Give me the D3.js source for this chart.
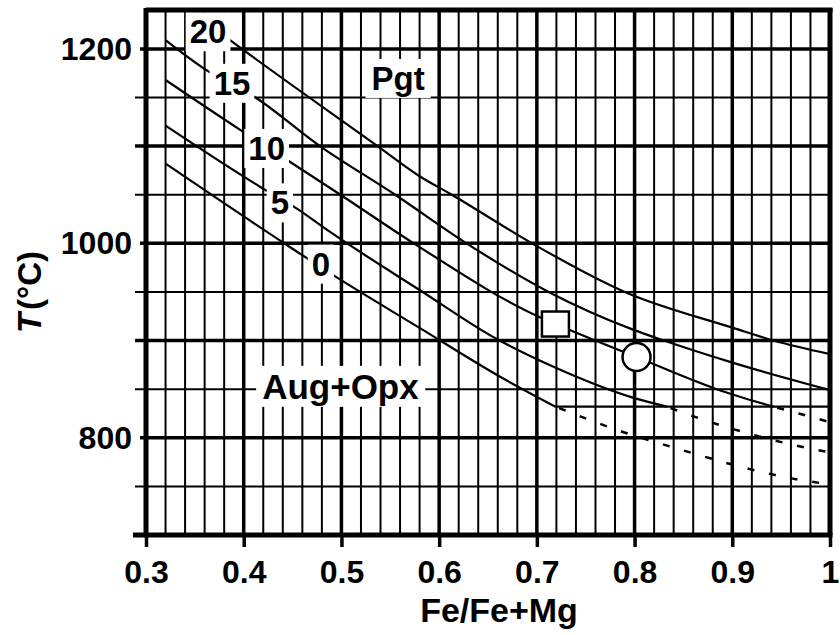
<!DOCTYPE html>
<html>
<head>
<meta charset="utf-8">
<script src="https://cdn.jsdelivr.net/npm/d3@7/dist/d3.min.js"></script>
<style>
  body { margin: 0; background: #fff; }
  svg { display: block; font-family: 'Liberation Sans', Arial, sans-serif; font-weight: bold; }
</style>
</head>
<body>
<svg width="840" height="635"></svg>
<script>
const xTicks = [0.3, 0.4, 0.5, 0.6, 0.7, 0.8, 0.9, 1];
const yTicks = [800, 1000, 1200];

// isobars in kbar, [Fe/(Fe+Mg), T]
const iso0  = [[0.320,1082],[0.440,1001],[0.492,967],[0.580,913],[0.662,863],[0.719,832]];
const iso5  = [[0.320,1121],[0.417,1058],[0.454,1036],[0.488,1012],[0.580,952],[0.660,901],[0.717,873],[0.799,841],[0.833,832]];
const iso10 = [[0.320,1168],[0.396,1117],[0.444,1086],[0.499,1050],[0.574,1000],[0.703,924],[0.719,917],[0.802,883],[0.884,850],[0.942,832]];
const iso15 = [[0.320,1209],[0.359,1180],[0.412,1150],[0.478,1100],[0.555,1050],[0.628,1000],[0.712,950],[0.799,911],[0.830,900],[0.901,877],[1.0,849]];
const iso20 = [[0.370,1221],[0.386,1209],[0.537,1100],[0.580,1069],[0.613,1050],[0.695,1000],[0.790,950],[0.901,913],[0.942,900],[1.0,886]];

// metastable extensions below the limit
const dash0  = [[0.719,832],[0.788,806],[0.850,787],[0.917,768],[0.962,758],[1.0,752]];
const dash5  = [[0.833,832],[0.875,817],[0.918,804],[0.961,793],[1.0,785]];
const dash10 = [[0.942,832],[0.968,825],[1.0,816]];
const limit  = [[0.719,832],[1.0,832]];

const squarePt = [0.719, 917];
const circlePt = [0.802, 883];

const isoNames = ['0', '5', '10', '15', '20'];
const isoLabelAt = [[0.479,979],[0.437,1042],[0.4235,1098],[0.388,1165],[0.3635,1218]];
const fieldNames = ['Pgt', 'Aug+Opx'];
const fieldAt = [[0.558,1170],[0.499,853]];

const svg = d3.select('svg'),
    width = +svg.attr('width'),
    height = +svg.attr('height');

const x = d3.scaleLinear().domain([0.3, 1]).range([146, 830]);
const y = d3.scaleLinear().domain([700, 1240]).range([535, 10]);

const tenth = d => Math.abs(d * 10 - Math.round(d * 10)) < 1e-6;

// grid
const grid = svg.append('g').attr('stroke', '#000');
grid.selectAll('line.v')
  .data(x.ticks(35).filter(d => d > 0.3 && d < 1))
  .enter().append('line')
    .attr('class', 'v')
    .attr('x1', d => x(d)).attr('x2', d => x(d))
    .attr('y1', y(1240)).attr('y2', y(700))
    .attr('stroke-width', d => tenth(d) ? 3.5 : 2);

grid.selectAll('line.h')
  .data(y.ticks(10).filter(d => d > 700))
  .enter().append('line')
    .attr('class', 'h')
    .attr('x1', d => yTicks.includes(d) ? 140 : 135).attr('x2', x(1))
    .attr('y1', d => y(d)).attr('y2', d => y(d))
    .attr('stroke-width', d => d % 100 === 0 ? 3.5 : 2);

// curves
const line = d3.line()
    .x(d => x(d[0]))
    .y(d => y(d[1]))
    .curve(d3.curveMonotoneX);

svg.append('g')
  .selectAll('path')
  .data([iso0, iso5, iso10, iso15, iso20, limit])
  .enter().append('path')
    .attr('d', line)
    .attr('fill', 'none')
    .attr('stroke', '#000')
    .attr('stroke-width', 2.2);

svg.append('g')
  .selectAll('path')
  .data([dash0, dash5, dash10])
  .enter().append('path')
    .attr('d', line)
    .attr('fill', 'none')
    .attr('stroke', '#000')
    .attr('stroke-width', 2.5)
    .attr('stroke-dasharray', '7,15')
    .attr('stroke-dashoffset', -4);

// samples
svg.append('rect')
    .attr('x', x(squarePt[0]) - 13.5).attr('y', y(squarePt[1]) - 12.5)
    .attr('width', 27).attr('height', 25)
    .attr('fill', '#fff').attr('stroke', '#000').attr('stroke-width', 2.5);
svg.append('circle')
    .attr('cx', x(circlePt[0])).attr('cy', y(circlePt[1])).attr('r', 14)
    .attr('fill', '#fff').attr('stroke', '#000').attr('stroke-width', 2.5);

// labels on white boxes
function boxed(text, pos, size, pad) {
  const g = svg.append('g');
  const t = g.append('text')
      .attr('x', x(pos[0])).attr('y', y(pos[1]))
      .attr('dy', '0.36em')
      .attr('text-anchor', 'middle')
      .style('font-size', size + 'px')
      .text(text);
  const b = t.node().getBBox();
  g.insert('rect', 'text')
      .attr('x', b.x - pad).attr('y', b.y - 1)
      .attr('width', b.width + 2 * pad).attr('height', b.height + 2)
      .attr('fill', '#fff');
}
isoNames.forEach((n, i) => boxed(n, isoLabelAt[i], 33, 4));
fieldNames.forEach((n, i) => boxed(n, fieldAt[i], i === 0 ? 33 : 35, 6));

// frame
const frame = svg.append('g').attr('stroke', '#000').attr('stroke-width', 5);
frame.append('line').attr('x1', 133).attr('x2', x(1) + 2.5).attr('y1', y(700)).attr('y2', y(700));
frame.append('line').attr('x1', x(0.3)).attr('x2', x(0.3)).attr('y1', y(1240) - 2).attr('y2', y(700) + 2.5);
frame.append('line').attr('x1', x(0.3)).attr('x2', x(1) + 2.5).attr('y1', y(1240)).attr('y2', y(1240));
frame.append('line').attr('x1', x(1)).attr('x2', x(1)).attr('y1', y(1240) - 2).attr('y2', y(700));

// axes
svg.append('g')
    .attr('transform', `translate(0,${y(700)})`)
    .call(d3.axisBottom(x).tickValues(xTicks).tickSize(12).tickPadding(13)
      .tickFormat(d => d === 1 ? '1' : d.toFixed(1)))
    .call(g => g.select('.domain').remove())
    .call(g => g.attr('font-size', null).attr('font-family', null))
    .call(g => g.selectAll('line').attr('stroke-width', 3.5))
    .call(g => g.selectAll('text').style('font-size', '32px'));

svg.append('g')
    .attr('transform', `translate(${x(0.3)},0)`)
    .call(d3.axisLeft(y).tickValues(yTicks).tickSize(0).tickPadding(14)
      .tickFormat(d3.format('d')))
    .call(g => g.select('.domain').remove())
    .call(g => g.attr('font-size', null).attr('font-family', null))
    .call(g => g.selectAll('text').style('font-size', '32px'));

svg.append('text')
    .attr('x', 499).attr('y', 622)
    .attr('text-anchor', 'middle')
    .style('font-size', '34px')
    .text('Fe/Fe+Mg');

const yTitle = svg.append('text')
    .attr('transform', 'translate(41,292) rotate(-90)')
    .attr('text-anchor', 'middle')
    .style('font-size', '33px');
yTitle.append('tspan').style('font-style', 'italic').text('T');
yTitle.append('tspan').attr('dx', 3).text('(°C)');
</script>
</body>
</html>
